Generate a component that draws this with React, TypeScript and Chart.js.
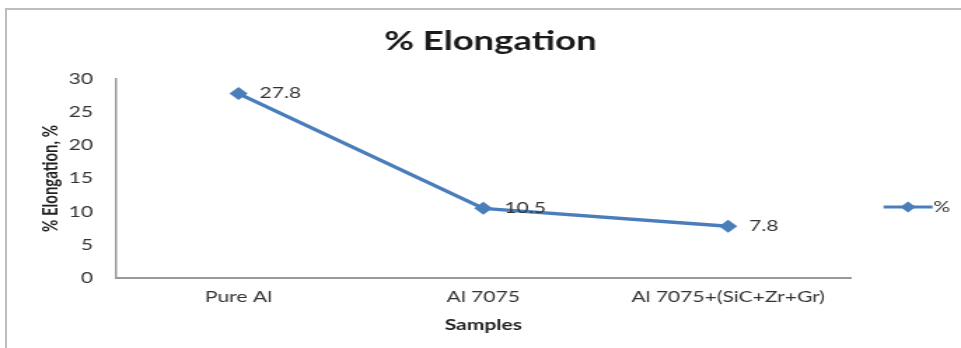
import React, { useEffect, useRef } from 'react';
import { Chart, registerables } from 'chart.js';

Chart.register(...registerables);

// ---- data ----
const categories = ['Pure Al', 'Al 7075', 'Al 7075+(SiC+Zr+Gr)'];
const elongation = [27.8, 10.5, 7.8];
const seriesName = '%';
const yTicks = [0, 5, 10, 15, 20, 25, 30];
const chartTitle = '% Elongation';
const xTitle = 'Samples';
const yTitle = '% Elongation, %';

// ---- look ----
// The chart is rendered on a narrower canvas and widened with CSS,
// giving the broad, horizontally stretched lettering of the original figure.
const STRETCH = 1.4;
const OUT_W = 961;
const OUT_H = 348;
const W = Math.round(OUT_W / STRETCH);
const FONT = 'Lato, "Open Sans", sans-serif';
const BLUE = '#4A7EBB';
const AXIS = '#999999';
const TEXT = '#333333';

const PLOT_LEFT = 116 / STRETCH;
const PLOT_RIGHT = 850 / STRETCH;
const PLOT_TOP = 79;
const PLOT_BOTTOM = 278;

const decorations = {
  id: 'decorations',
  afterDatasetsDraw(chart: any) {
    const ctx = chart.ctx;
    const meta = chart.getDatasetMeta(0);
    ctx.save();
    ctx.font = `15px ${FONT}`;
    ctx.fillStyle = TEXT;
    ctx.textAlign = 'left';
    ctx.textBaseline = 'middle';
    meta.data.forEach((pt: any, i: number) => {
      ctx.fillText(String(elongation[i]), pt.x + 15, pt.y);
    });
    ctx.restore();
  },
  afterDraw(chart: any) {
    const ctx = chart.ctx;
    ctx.save();
    // chart title
    ctx.font = `bold 26px ${FONT}`;
    ctx.fillStyle = '#1a1a1a';
    ctx.textAlign = 'center';
    ctx.textBaseline = 'middle';
    ctx.fillText(chartTitle, 490 / STRETCH, 42);

    // legend entry: line with diamond marker, then series name
    const ly = 207;
    const lx0 = 883 / STRETCH;
    const lx1 = 932 / STRETCH;
    const mx = (lx0 + lx1) / 2;
    ctx.strokeStyle = BLUE;
    ctx.lineWidth = 3;
    ctx.beginPath();
    ctx.moveTo(lx0, ly);
    ctx.lineTo(lx1, ly);
    ctx.stroke();
    ctx.fillStyle = BLUE;
    ctx.beginPath();
    const r = 5.5;
    ctx.moveTo(mx, ly - r);
    ctx.lineTo(mx + r, ly);
    ctx.lineTo(mx, ly + r);
    ctx.lineTo(mx - r, ly);
    ctx.closePath();
    ctx.fill();
    ctx.font = `15px ${FONT}`;
    ctx.fillStyle = TEXT;
    ctx.textAlign = 'left';
    ctx.fillText(seriesName, lx1 + 0.5, ly);
    ctx.restore();
  },
};

export default function App() {
  const canvasRef = useRef<HTMLCanvasElement | null>(null);

  useEffect(() => {
    if (!canvasRef.current) return;
    const chart = new Chart(canvasRef.current, {
      type: 'line',
      data: {
        labels: categories,
        datasets: [
          {
            label: seriesName,
            data: elongation,
            borderColor: BLUE,
            backgroundColor: BLUE,
            borderWidth: 3.3,
            pointStyle: 'rectRot',
            pointRadius: 6.5,
            pointBorderWidth: 0,
            pointBackgroundColor: BLUE,
            tension: 0,
            fill: false,
          },
        ],
      },
      options: {
        animation: false,
        responsive: false,
        devicePixelRatio: 1,
        events: [],
        layout: {
          padding: { top: PLOT_TOP, right: W - PLOT_RIGHT, left: 0, bottom: 0 },
        },
        plugins: {
          legend: { display: false },
          title: { display: false },
          tooltip: { enabled: false },
        },
        scales: {
          x: {
            type: 'category',
            offset: true,
            grid: { display: false, drawTicks: false },
            border: { display: true, color: AXIS, width: 2 },
            ticks: {
              color: TEXT,
              font: { family: FONT, size: 15 },
              padding: 10,
              maxRotation: 0,
              autoSkip: false,
            },
            title: {
              display: true,
              text: xTitle,
              color: '#1f1f1f',
              font: { family: FONT, size: 15, weight: 'bold' },
              padding: { top: 0, bottom: 14 },
            },
            afterFit(scale: any) {
              scale.height = OUT_H - PLOT_BOTTOM;
            },
          },
          y: {
            min: 0,
            max: 30,
            grid: { display: false, drawTicks: false },
            border: { display: true, color: AXIS, width: 1.5 },
            ticks: {
              color: TEXT,
              font: { family: FONT, size: 15 },
              padding: 16.5,
            },
            afterBuildTicks(scale: any) {
              scale.ticks = yTicks.map((v) => ({ value: v }));
            },
            title: {
              display: true,
              text: yTitle,
              color: '#1f1f1f',
              font: { family: FONT, size: 15, weight: 'bold' },
              padding: { top: 27, bottom: 0 },
            },
            afterFit(scale: any) {
              scale.width = PLOT_LEFT;
            },
          },
        },
      },
      plugins: [decorations],
    } as any);
    return () => chart.destroy();
  }, []);

  return (
    <div
      style={{
        position: 'fixed',
        left: 0,
        top: 0,
        width: OUT_W,
        height: OUT_H,
        overflow: 'hidden',
        background: '#ffffff',
      }}
    >
      <div
        style={{
          position: 'absolute',
          left: 5,
          top: 8,
          width: 1100,
          height: 500,
          borderTop: '2px solid #bdbdbd',
          borderLeft: '2px solid #bdbdbd',
        }}
      />
      <canvas
        ref={canvasRef}
        width={W}
        height={OUT_H}
        style={{
          position: 'absolute',
          left: 0,
          top: 0,
          width: `${OUT_W}px`,
          height: `${OUT_H}px`,
          display: 'block',
        }}
      />
    </div>
  );
}
